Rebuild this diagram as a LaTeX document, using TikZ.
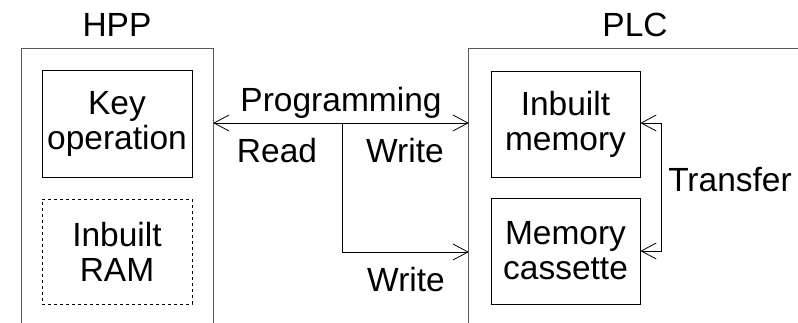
\documentclass[tikz,border=0pt]{standalone}
\usepackage{fontspec}
\setmainfont{Liberation Sans}
\usetikzlibrary{arrows.meta}
\begin{document}
\begin{tikzpicture}[x=1pt,y=1pt,
  lbl/.style={font=\fontsize{33.5}{35}\selectfont, inner sep=0pt},
  inbox/.style={draw, line width=0.8pt, inner sep=0pt, align=center,
    minimum width=150pt, minimum height=106pt, font=\fontsize{33.5}{35}\selectfont},
  frame/.style={line width=1pt, black!65},
  flow/.style={line width=0.8pt, {Straight Barb[length=15pt,width=16pt]}-{Straight Barb[length=15pt,width=16pt]}},
  oneway/.style={line width=0.8pt, -{Straight Barb[length=15pt,width=16pt]}}
]
\useasboundingbox (0,0) rectangle (798,323);
% outer frames (open at the bottom)
\node[minimum width=191pt, minimum height=274pt, inner sep=0pt] (hpp) at (117.5,137) {};
\node[minimum width=340pt, minimum height=274pt, inner sep=0pt] (plc) at (639,137) {};
\draw[frame] (hpp.south west) |- (hpp.north east) -- (hpp.south east);
\draw[frame] (plc.south west) |- (plc.north east);
\node[lbl] (hpplbl) at (117,298) {HPP};
\node[lbl] (plclbl) at (635,298) {PLC};
% inner boxes
\node[inbox, minimum height=107pt] (key) at (117,199.5) {Key\\operation};
\node[inbox, dashed, line width=0.6pt, minimum height=105pt] (ram) at (117,71.5) {Inbuilt\\RAM};
\node[inbox, minimum width=149pt] (mem) at (565.5,199) {Inbuilt\\memory};
\node[inbox, minimum width=149pt] (cas) at (565.5,72) {Memory\\cassette};
% connectors
\coordinate (br) at (342,200);
\draw[flow] (hpp.east |- 0,200) -- (plc.west |- 0,200);
\draw[oneway] (br) |- (plc.west |- 0,71);
\draw[flow] (mem.east |- 0,200) -- ++(21,0) |- (cas.east |- 0,72);
% labels
\node[lbl, anchor=base] (prog) at (341,211) {Programming};
\node[lbl, anchor=base] (read) at (277,160) {Read};
\node[lbl, anchor=base] (write1) at (405,160) {Write};
\node[lbl, anchor=base] (write2) at (406,31) {Write};
\node[lbl, anchor=base] (transfer) at (730,131) {Transfer};
\end{tikzpicture}
\end{document}
